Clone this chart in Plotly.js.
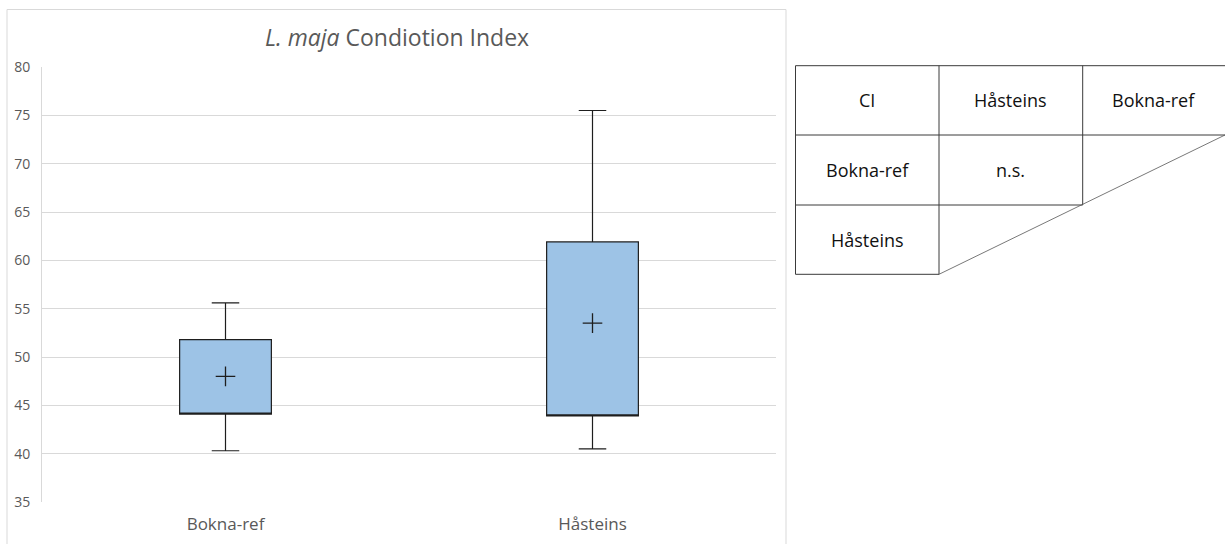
<!DOCTYPE html>
<html>
<head>
<meta charset="utf-8">
<script src="https://cdn.plot.ly/plotly-3.0.1.min.js"></script>
<style>html,body{margin:0;padding:0;background:#fff;}#chart{width:1225px;height:544px;}</style>
</head>
<body>
<div id="chart"></div>
<script>
// ---- data ----
const categories = ['Bokna-ref', 'Håsteins'];
const q1 = [44.1, 43.9];
const q3 = [51.8, 61.9];
const lowerWhisker = [40.3, 40.5];
const upperWhisker = [55.6, 75.5];
const means = [48.0, 53.5];
const yTicks = [35, 40, 45, 50, 55, 60, 65, 70, 75, 80];

const tableHeader = ['CI', 'Håsteins', 'Bokna-ref'];
const tableRowLabels = ['Bokna-ref', 'Håsteins'];
const tableCells = [['n.s.', ''], ['', '']];

// ---- geometry helpers (pixel -> paper) ----
const L = 42, R = 776, T = 67, B = 502, W = 1225, H = 544;
const px = x => (x - L) / (R - L);
const py = y => (B - y) / (B - T);

const boxTrace = {
  type: 'box',
  x: categories,
  q1: q1,
  median: q1,
  q3: q3,
  lowerfence: lowerWhisker,
  upperfence: upperWhisker,
  boxpoints: false,
  width: 0.25,
  whiskerwidth: 0.3,
  fillcolor: 'rgb(157,195,230)',
  line: {color: '#1e1e1e', width: 1.2},
  hoverinfo: 'skip',
  showlegend: false
};

const meanTrace = {
  type: 'scatter',
  mode: 'markers',
  x: categories,
  y: means,
  marker: {symbol: 'cross-thin-open', size: 14, color: '#1e1e1e', line: {color: '#1e1e1e', width: 1.3}},
  hoverinfo: 'skip',
  showlegend: false
};

// table lines
const colX = [795.5, 939, 1082.7, 1225];
const rowY = [65.7, 135, 205, 274.3];
const lineStyle = {color: '#3a3a3a', width: 1};
const shapes = [];
function seg(x0, y0, x1, y1, lw) {
  shapes.push({type: 'line', xref: 'paper', yref: 'paper',
    x0: px(x0), y0: py(y0), x1: px(x1), y1: py(y1), line: lw || lineStyle});
}
// chart frame
shapes.push({type: 'rect', xref: 'paper', yref: 'paper',
  x0: px(7), y0: py(9.5), x1: px(786), y1: py(560),
  line: {color: '#d9d9d9', width: 1}, fillcolor: 'rgba(0,0,0,0)', layer: 'below'});
seg(colX[0], rowY[0], colX[3], rowY[0]);
seg(colX[0], rowY[1], colX[3], rowY[1]);
seg(colX[0], rowY[2], colX[2], rowY[2]);
seg(colX[0], rowY[3], colX[1], rowY[3]);
seg(colX[0], rowY[0], colX[0], rowY[3]);
seg(colX[1], rowY[0], colX[1], rowY[3]);
seg(colX[2], rowY[0], colX[2], rowY[2]);
seg(colX[1], rowY[3], colX[3], rowY[1], {color: '#555', width: 0.8});

const annotations = [];
const tFont = {family: 'Open Sans, sans-serif', size: 18, color: '#111'};
function cellText(txt, c, r) {
  if (!txt) return;
  annotations.push({xref: 'paper', yref: 'paper',
    x: px((colX[c] + colX[c + 1]) / 2), y: py((rowY[r] + rowY[r + 1]) / 2),
    text: txt, showarrow: false, xanchor: 'center', yanchor: 'middle', font: tFont});
}
tableHeader.forEach((t, i) => cellText(t, i, 0));
tableRowLabels.forEach((t, i) => cellText(t, 0, i + 1));
tableCells.forEach((row, r) => row.forEach((t, c) => cellText(t, c + 1, r + 1)));

const layout = {
  width: W, height: H,
  margin: {l: L, r: W - R, t: T, b: H - B},
  paper_bgcolor: '#fff', plot_bgcolor: '#fff',
  font: {family: 'Open Sans, sans-serif', color: '#595959'},
  title: {
    text: '<i>L. maja</i> Condiotion Index',
    x: px(397), xref: 'paper', xanchor: 'center',
    y: 1 - 38 / H, yref: 'container', yanchor: 'middle',
    font: {size: 23, color: '#595959', family: 'Open Sans, sans-serif'}
  },
  xaxis: {
    type: 'category', categoryarray: categories, range: [-0.5, 1.5],
    showgrid: false, zeroline: false, showline: false, ticks: '',
    tickfont: {size: 17, color: '#595959'}, ticklabelstandoff: 10
  },
  yaxis: {
    range: [35, 80], tickvals: yTicks, ticktext: yTicks.map(String),
    showgrid: true, gridcolor: '#d9d9d9', gridwidth: 1,
    zeroline: false, showline: true, linecolor: '#d9d9d9', linewidth: 1,
    ticks: '', tickfont: {size: 14, color: '#595959'}, ticklabelstandoff: 8
  },
  shapes: shapes,
  annotations: annotations,
  showlegend: false
};

Plotly.newPlot('chart', [boxTrace, meanTrace], layout, {staticPlot: true, displayModeBar: false});
</script>
</body>
</html>
